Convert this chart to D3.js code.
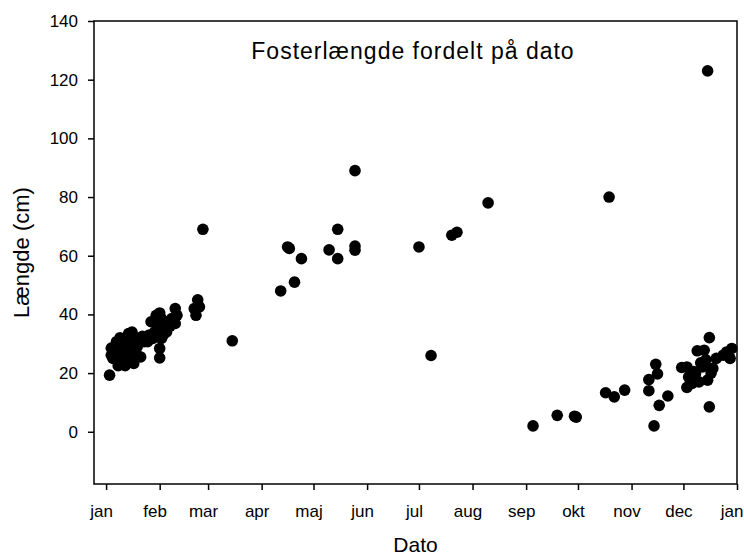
<!DOCTYPE html>
<html>
<head>
<meta charset="utf-8">
<script src="https://cdn.jsdelivr.net/npm/d3@7"></script>
<style>
  html, body { margin: 0; padding: 0; background: #fff; }
  svg text { font-family: "Liberation Sans", Arial, sans-serif; fill: #000; }
</style>
</head>
<body>
<svg id="chart" width="744" height="556"></svg>
<script>
// ---- data ----
const monthLabels = ["jan","feb","mar","apr","maj","jun","jul","aug","sep","okt","nov","dec","jan"];
const yTicks = [0, 20, 40, 60, 80, 100, 120, 140];

const dates = [
  // jan - feb cluster
  "01-03","01-05","01-04","01-07","01-08","01-10","01-11","01-14","01-16","01-17",
  "01-19","01-21","01-17","01-23","01-25","01-28","01-27","01-30","02-01","02-02",
  "02-01","02-02","02-01","02-01","02-03","02-03","02-05","02-06","02-08","02-10",
  "02-11","02-10","02-23","02-24","02-21","02-22","02-26","03-15",
  "01-04","01-05","01-06","01-07","01-08","01-09","01-10","01-11","01-12","01-13",
  "01-14","01-15","01-16","01-18","01-19","01-20","01-22","01-24","01-26","01-12",
  "01-13","01-09","01-15","01-29","01-31","02-02","02-04","02-07","02-09","01-30",
  // spring / summer
  "05-25","05-15","04-16","04-17","04-24","05-10","05-15","05-25","05-25","04-20",
  "04-12","07-01","07-20","07-23","08-10","07-08",
  // autumn / winter
  "09-05","09-19","09-29","09-30","10-19","12-15","10-17","10-22","10-28","11-15",
  "11-11","11-16","11-11","11-17","11-22","11-14","11-30","12-03","12-03","12-04",
  "12-06","12-16","12-16","12-09","12-13","12-12","12-08","12-10","12-15","12-18",
  "12-20","12-24","12-26","12-29","12-28","12-11","12-14","12-17","12-07","12-05"
];
const lengths = [
  19.3,27.8,26.1,30.7,24.4,23.3,31.8,33.5,34.0,23.3,
  26.1,25.5,29.5,30.7,30.7,31.8,37.5,39.7,40.5,38.6,
  34.0,31.8,28.4,25.2,36.3,32.9,34.0,36.3,38.6,42.0,
  39.7,36.9,45.0,42.6,42.0,39.7,69.0,31.0,
  28.5,25.0,29.0,27.0,22.5,28.0,26.5,29.5,25.0,31.0,
  27.5,30.0,26.0,32.0,29.0,31.0,32.5,31.5,33.0,22.5,
  24.0,32.0,33.0,34.0,36.0,35.0,37.5,36.0,37.0,33.0,
  89.0,69.0,63.0,62.5,59.0,62.0,59.0,63.3,61.9,51.0,
  48.0,63.0,67.0,68.0,78.0,26.0,
  2.0,5.6,5.3,5.0,80.0,123.0,13.3,11.9,14.2,23.0,
  17.8,19.7,14.0,9.0,12.2,2.0,21.9,22.1,15.1,18.7,
  16.5,32.1,8.5,27.6,27.8,22.1,19.9,17.0,17.6,21.6,
  25.0,26.1,27.2,28.4,25.0,23.5,24.5,20.0,20.5,17.0
];

// ---- layout ----
const svg = d3.select("#chart");
const mLeft = 94, mRight = 737, mTop = 21, mBottom = 484;
const parse = d3.timeParse("%Y-%m-%d");

const x = d3.scaleTime()
  .domain([parse("2000-12-25"), parse("2002-01-01")])
  .range([mLeft, mRight]);
const y = d3.scaleLinear()
  .domain([-17.8, 140])
  .range([mBottom, mTop]);

const monthTicks = d3.timeMonth.range(parse("2001-01-01"), parse("2002-01-02"));

const points = dates.map((d, i) => ({ date: parse("2001-" + d), value: lengths[i] }));

// frame
svg.append("rect")
  .attr("x", mLeft).attr("y", mTop)
  .attr("width", mRight - mLeft).attr("height", mBottom - mTop)
  .attr("fill", "none").attr("stroke", "#000").attr("stroke-width", 1.5);

// x axis
const xAxis = svg.append("g")
  .attr("transform", `translate(0,${mBottom})`)
  .call(d3.axisBottom(x)
    .tickValues(monthTicks)
    .tickFormat((d, i) => monthLabels[i])
    .tickSize(6).tickSizeOuter(0).tickPadding(15));
xAxis.select(".domain").remove();
xAxis.selectAll("line").attr("stroke", "#000").attr("stroke-width", 1.5);
xAxis.selectAll("text")
  .attr("font-size", 17)
  .attr("dx", -5)
  .style("font-family", "'Liberation Sans', Arial, sans-serif");
// keep the last label inside the canvas
xAxis.selectAll("text").filter((d, i, n) => i === n.length - 1)
  .attr("text-anchor", "end").attr("dx", 6);

// y axis
const yAxis = svg.append("g")
  .attr("transform", `translate(${mLeft},0)`)
  .call(d3.axisLeft(y)
    .tickValues(yTicks)
    .tickSize(6).tickSizeOuter(0).tickPadding(10));
yAxis.select(".domain").remove();
yAxis.selectAll("line").attr("stroke", "#000").attr("stroke-width", 1.5);
yAxis.selectAll("text").attr("font-size", 17).style("font-family", "'Liberation Sans', Arial, sans-serif");

// points
svg.append("g")
  .selectAll("circle")
  .data(points)
  .join("circle")
  .attr("cx", d => x(d.date))
  .attr("cy", d => y(d.value))
  .attr("r", 5.8)
  .attr("fill", "#000");

// title
svg.append("text")
  .attr("x", 413).attr("y", 59)
  .attr("text-anchor", "middle")
  .attr("font-size", 23)
  .attr("letter-spacing", 1)
  .text("Fosterlængde fordelt på dato");

// axis titles
svg.append("text")
  .attr("x", (mLeft + mRight) / 2).attr("y", 552)
  .attr("text-anchor", "middle")
  .attr("font-size", 21)
  .text("Dato");

svg.append("text")
  .attr("transform", `translate(29,${(mTop + mBottom) / 2}) rotate(-90)`)
  .attr("text-anchor", "middle")
  .attr("font-size", 22)
  .text("Længde (cm)");
</script>
</body>
</html>
